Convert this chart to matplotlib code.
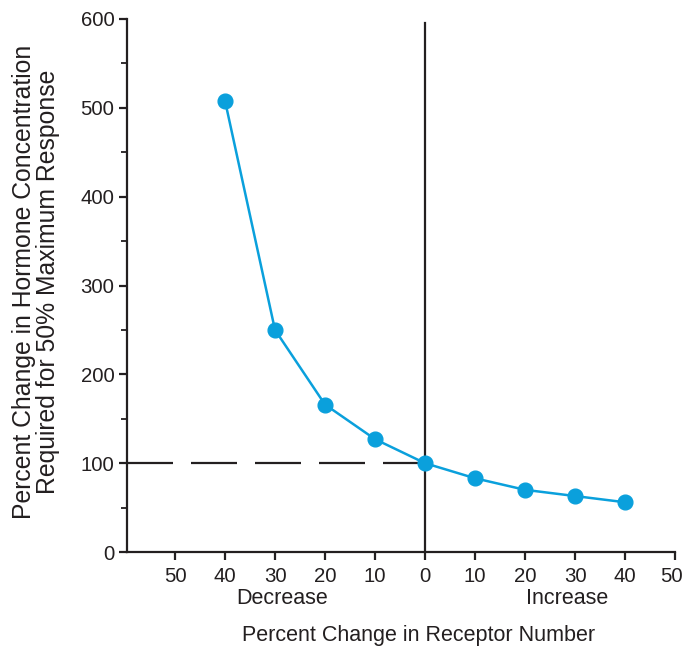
import matplotlib
matplotlib.use("Agg")
import matplotlib.pyplot as plt
from matplotlib.ticker import MultipleLocator, FixedLocator
from matplotlib.transforms import ScaledTranslation

# Data: negative = decrease, positive = increase in receptor number
receptor_change = [-40, -30, -20, -10, 0, 10, 20, 30, 40]
hormone_change = [508, 250, 166, 127, 100, 83, 70, 63, 56]
x_ticks = [-50, -40, -30, -20, -10, 0, 10, 20, 30, 40, 50]
x_tick_labels = ["50", "40", "30", "20", "10", "0", "10", "20", "30", "40", "50"]
y_ticks = [0, 100, 200, 300, 400, 500, 600]

plt.rcParams['font.family'] = ['Liberation Sans', 'DejaVu Sans']

fig = plt.figure(figsize=(6.84, 6.47), dpi=100)
ax = fig.add_axes([127/684, 1 - 552/647, (675 - 127)/684, (552 - 19)/647])

color = '#0aa0dc'
ax.plot(receptor_change, hormone_change, color=color, lw=1.8, marker='o',
        markersize=10.6, zorder=3)

# reference lines
ax.axvline(0, ymin=0, ymax=0.992, color='#231f20', lw=1.6, zorder=2)
ax.plot([-59.6, 0], [100, 100], color='#231f20', lw=1.6, dashes=(20.7, 8.1), zorder=2)

ax.set_xlim(-59.6, 50)
ax.set_ylim(0, 600)
ax.xaxis.set_major_locator(FixedLocator(x_ticks))
ax.set_xticklabels(x_tick_labels)
ax.set_yticks(y_ticks)
ax.yaxis.set_minor_locator(MultipleLocator(50))

for s in ['top', 'right']:
    ax.spines[s].set_visible(False)
for s in ['left', 'bottom']:
    ax.spines[s].set_linewidth(1.6)
    ax.spines[s].set_color('#231f20')

ax.tick_params(axis='both', which='major', direction='out', length=6, width=1.6,
               color='#231f20', labelsize=14.7, labelcolor='#231f20')
ax.tick_params(axis='y', which='minor', direction='out', length=4, width=1.3,
               color='#231f20')
ax.tick_params(axis='x', pad=5)
ax.tick_params(axis='y', pad=3)

# keep the last x tick label inside the figure
last = ax.get_xticklabels()[-1]
last.set_transform(last.get_transform() + ScaledTranslation(-4/100, 0, fig.dpi_scale_trans))

ax.text(-28.5, -52, "Decrease", ha='center', va='center', fontsize=15.5, color='#231f20')
ax.text(28.5, -52, "Increase", ha='center', va='center', fontsize=15.5, color='#231f20')
fig.text(419/684, 1 - 636/647, "Percent Change in Receptor Number", ha='center',
         va='center', fontsize=15.5, color='#231f20')
fig.text(36/684, 1 - 282/647,
         "Percent Change in Hormone Concentration\nRequired for 50% Maximum Response",
         ha='center', va='center', rotation=90, fontsize=17.8, color='#231f20',
         linespacing=1.0)

fig.savefig("out.png", dpi=100)
